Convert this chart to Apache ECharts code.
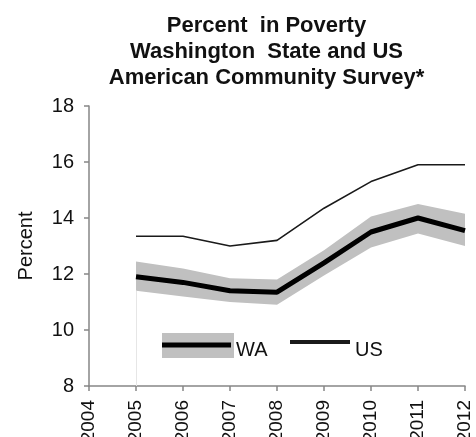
<!DOCTYPE html>
<html>
<head>
<meta charset="utf-8">
<script src="https://cdn.jsdelivr.net/npm/echarts@6/dist/echarts.min.js"></script>
<style>
  html, body { margin: 0; padding: 0; background: #fff; }
  #chart { width: 476px; height: 437px; }
</style>
</head>
<body>
<div id="chart"></div>
<script>
// years on the x axis (2004 is only a tick, no data)
const years = ['2004', '2005', '2006', '2007', '2008', '2009', '2010', '2011', '2012'];
// percent in poverty
const waValues = [null, 11.9, 11.7, 11.4, 11.35, 12.4, 13.5, 14.0, 13.55];
const usValues = [null, 13.35, 13.35, 13.0, 13.2, 14.35, 15.3, 15.9, 15.9];
// WA confidence band
const waLow  = [null, 11.4, 11.2, 11.0, 10.9, 11.95, 12.95, 13.45, 13.0];
const waHigh = [null, 12.45, 12.2, 11.85, 11.8, 12.85, 14.05, 14.5, 14.15];

const font = 'Liberation Sans, Arial, sans-serif';

let bandSize = [];
for (let i = 0; i < waLow.length; i++) {
  bandSize.push(waLow[i] == null ? null : +(waHigh[i] - waLow[i]).toFixed(2));
}

// legend icons: a bar inside an invisible box of itemWidth x itemHeight
const waIcon = 'path://M0,0L0.01,0L0,0.01Z M0,4.5L69,4.5L69,9.5L0,9.5Z M69,24L68.99,24L69,23.99Z';
const usIcon = 'path://M0,0L0.01,0L0,0.01Z M0,2L60,2L60,6L0,6Z M60,24L59.99,24L60,23.99Z';

let chart = echarts.init(document.getElementById('chart'));
chart.setOption({
  animation: false,
  textStyle: { fontFamily: font },
  title: {
    text: 'Percent  in Poverty\nWashington  State and US\nAmerican Community Survey*',
    left: 266.5,
    top: 13,
    padding: 0,
    textAlign: 'center',
    textStyle: { fontSize: 22, fontWeight: 'bold', color: '#111', lineHeight: 26, fontFamily: font }
  },
  grid: { left: 89, right: 11, top: 106, bottom: 51, outerBoundsMode: 'none', containLabel: false },
  xAxis: {
    type: 'category',
    data: years,
    boundaryGap: false,
    axisLine: { lineStyle: { color: '#868686', width: 1.5 } },
    axisTick: { length: 5, lineStyle: { color: '#868686', width: 1.5 } },
    axisLabel: { rotate: 90, margin: 14, fontSize: 19, color: '#111', interval: 0 }
  },
  yAxis: {
    type: 'value',
    min: 8,
    max: 18,
    interval: 2,
    name: 'Percent',
    nameLocation: 'middle',
    nameGap: 53,
    nameTextStyle: { fontSize: 20, color: '#111' },
    splitLine: { show: false },
    axisLine: { show: true, lineStyle: { color: '#868686', width: 1.5 } },
    axisTick: { show: true, length: 5, lineStyle: { color: '#868686', width: 1.5 } },
    axisLabel: { fontSize: 20, color: '#111', margin: 15 }
  },
  legend: [
    {
      left: 162, top: 338, padding: 0,
      itemWidth: 69, itemHeight: 24,
      data: [{ name: 'WA', icon: waIcon }],
      textStyle: { fontSize: 20, color: '#111' }
    },
    {
      left: 290, top: 338, padding: 0,
      itemWidth: 60, itemHeight: 24,
      data: [{ name: 'US', icon: usIcon }],
      textStyle: { fontSize: 20, color: '#111' }
    }
  ],
  graphic: [
    { type: 'rect', left: 162, top: 333, z: 0, shape: { width: 72, height: 25 }, style: { fill: '#c0c0c0' } }
  ],
  series: [
    {
      name: 'band-low',
      type: 'line',
      stack: 'band',
      data: waLow,
      symbol: 'none',
      lineStyle: { opacity: 0 },
      silent: true,
      markLine: {
        silent: true,
        symbol: 'none',
        label: { show: false },
        lineStyle: { color: '#e6e6e6', width: 1, type: 'solid' },
        data: [[{ coord: ['2005', 8] }, { coord: ['2005', waLow[1]] }]]
      }
    },
    {
      name: 'band',
      type: 'line',
      stack: 'band',
      data: bandSize,
      symbol: 'none',
      lineStyle: { opacity: 0 },
      areaStyle: { color: '#c0c0c0', opacity: 1 },
      silent: true
    },
    {
      name: 'US',
      type: 'line',
      data: usValues,
      symbol: 'none',
      itemStyle: { color: '#1a1a1a' },
      lineStyle: { color: '#1a1a1a', width: 1.6 }
    },
    {
      name: 'WA',
      type: 'line',
      data: waValues,
      symbol: 'none',
      itemStyle: { color: '#000' },
      lineStyle: { color: '#000', width: 5 }
    }
  ]
});
</script>
</body>
</html>
